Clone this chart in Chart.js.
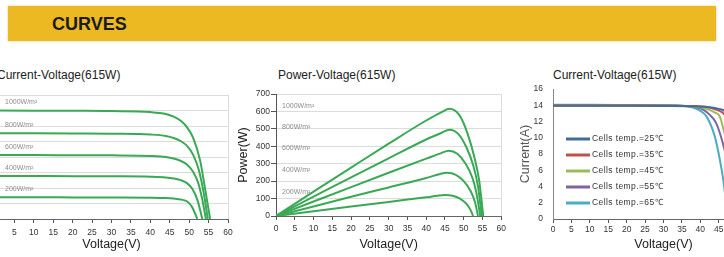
<!DOCTYPE html>
<html>
<head>
<meta charset="utf-8">
<script src="https://cdn.jsdelivr.net/npm/chart.js@4.4.0/dist/chart.umd.min.js"></script>
<style>
  body { margin: 0; width: 724px; height: 257px; overflow: hidden; background: #fff; position: relative;
         font-family: "Liberation Sans", Arial, sans-serif; }
  .banner { position: absolute; left: 8px; top: 6px; width: 708px; height: 35px; background: #ecb922;
            box-shadow: 0 0 2px rgba(205, 160, 40, 0.6); }
  .banner span { position: absolute; left: 44px; top: 8px; font-weight: bold; font-size: 18px; color: #1b1b1b; }
  .title { position: absolute; font-size: 12px; color: #222; white-space: nowrap; line-height: 14px; }
  canvas { position: absolute; }
</style>
</head>
<body>
<div class="banner"><span>CURVES</span></div>
<div class="title" style="left:-3px; top:68px">Current-Voltage(615W)</div>
<div class="title" style="left:278px; top:68px">Power-Voltage(615W)</div>
<div class="title" style="left:553px; top:68px">Current-Voltage(615W)</div>

<canvas id="iv" width="253" height="167" style="left:-15px; top:85px; width:253px; height:167px"></canvas>
<canvas id="pv" width="274" height="167" style="left:236px; top:85px; width:274px; height:167px"></canvas>
<canvas id="temp" width="264" height="172" style="left:518px; top:80px; width:264px; height:172px"></canvas>

<script>
// irradiance series (charts 1 and 2)
const irradianceLabels = ['1000W/m²', '800W/m²', '600W/m²', '400W/m²', '200W/m²'];

const ivVoltage = [
  [0, 10, 20, 30, 40, 44, 46, 48, 49.5, 51, 52.8, 54.1, 55.4],
  [0, 10, 20, 30, 40, 44, 46, 48, 49.5, 51, 52.5, 53.7, 54.8],
  [0, 10, 20, 30, 40, 44, 46, 48, 49.5, 51, 52.3, 53.3, 54.3],
  [0, 10, 20, 30, 40, 44, 46, 48, 49.5, 50.8, 52.1, 53.4],
  [0, 10, 20, 30, 40, 44, 46, 48, 49.5, 50.8, 52.1]
];
const ivCurrent = [
  [14.0, 13.98, 13.96, 13.93, 13.8, 13.55, 13.2, 12.6, 11.8, 10.5, 7.6, 3.9, 0],
  [11.06, 11.05, 11.03, 11.0, 10.9, 10.72, 10.45, 10.0, 9.4, 8.3, 6.3, 3.5, 0],
  [8.26, 8.25, 8.23, 8.21, 8.13, 8.0, 7.8, 7.45, 7.0, 6.1, 4.7, 2.7, 0],
  [5.55, 5.54, 5.53, 5.51, 5.46, 5.37, 5.23, 4.98, 4.6, 3.9, 2.5, 0],
  [2.8, 2.8, 2.79, 2.78, 2.75, 2.7, 2.63, 2.5, 2.25, 1.5, 0]
];

const pvVoltage = [
  [0, 10, 20, 30, 40, 44, 46.2, 48.8, 51, 52.8, 54.1, 55.2],
  [0, 10, 20, 30, 40, 44, 46.2, 48.6, 50.8, 52.6, 53.8, 54.8],
  [0, 10, 20, 30, 40, 44, 46, 48.3, 50.5, 52.3, 53.4, 54.4],
  [0, 10, 20, 30, 40, 43.5, 45.5, 47.8, 50, 51.8, 53, 53.8],
  [0, 10, 20, 30, 40, 43, 45, 47, 49, 50.8, 51.8, 52.5]
];
const pvPower = [
  [0, 140, 278, 415, 548, 595, 615, 580, 474, 340, 206, 0],
  [0, 111, 222, 331, 439, 476, 495, 470, 390, 285, 170, 0],
  [0, 83, 166, 248, 329, 361, 375, 357, 300, 220, 130, 0],
  [0, 55, 110, 164, 218, 240, 248, 238, 200, 145, 80, 0],
  [0, 27, 54, 81, 107, 116, 120, 116, 100, 68, 35, 0]
];

// cell temperature series (chart 3)
const tempLabels = ['Cells temp.=25℃', 'Cells temp.=35℃', 'Cells temp.=45℃', 'Cells temp.=55℃', 'Cells temp.=65℃'];
const tempColors = ['#416c9c', '#c0504d', '#9bbb59', '#8064a2', '#4bacc6'];
const tempVoltage = [
  [0, 10, 20, 30, 38, 42, 44, 46, 48, 50, 52, 54, 55.5],
  [0, 10, 20, 30, 38, 42, 44, 46, 48, 50, 52, 53.6],
  [0, 10, 20, 30, 36, 40, 42, 44, 45.3, 46.3, 48, 50, 51.5],
  [0, 10, 20, 30, 36, 39, 41, 42.5, 44.3, 46.3, 48, 49.5],
  [0, 10, 20, 30, 35, 38, 40, 41.7, 43.9, 45.3, 46.2, 47.5]
];
const tempCurrent = [
  [13.95, 13.95, 13.94, 13.92, 13.88, 13.78, 13.65, 13.45, 12.9, 11.8, 9.8, 6.0, 0],
  [13.98, 13.98, 13.97, 13.95, 13.9, 13.75, 13.5, 13.1, 12.0, 10.0, 6.5, 0],
  [14.0, 14.0, 13.99, 13.97, 13.92, 13.75, 13.5, 13.1, 12.6, 11.0, 8.0, 4.0, 0],
  [14.02, 14.02, 14.01, 13.99, 13.92, 13.75, 13.4, 12.85, 11.8, 9.0, 5.5, 0],
  [14.05, 14.05, 14.04, 14.02, 13.95, 13.72, 13.3, 12.6, 10.2, 7.3, 4.9, 0]
];

const voltageTicks = { min: 0, max: 60, step: 5 };

Chart.defaults.font.family = '"Liberation Sans", Arial, sans-serif';
Chart.defaults.color = '#333';

const green = '#3aa955';
const toPoints = (xs, ys) => xs.map((x, i) => ({ x, y: ys[i] }));

// irradiance text drawn next to each curve
const curveLabels = {
  id: 'curveLabels',
  beforeDatasetsDraw(chart, args, opts) {
    const { ctx, chartArea, scales } = chart;
    ctx.save();
    ctx.font = '7px "Liberation Sans", Arial, sans-serif';
    ctx.fillStyle = '#8c8c8c';
    ctx.textBaseline = 'middle';
    chart.data.datasets.forEach(ds => {
      const ys = ds.data.map(p => p.y);
      const v = opts.anchor === 'peak' ? Math.max(...ys) : ys[0];
      ctx.fillText(ds.label, chartArea.left + opts.dx, scales.y.getPixelForValue(v) + opts.dy);
    });
    ctx.restore();
  }
};

// legend sitting inside the plot
const insideLegend = {
  id: 'insideLegend',
  afterDatasetsDraw(chart, args, opts) {
    const { ctx, chartArea } = chart;
    ctx.save();
    ctx.font = '8.5px "Liberation Sans", Arial, sans-serif';
    if ('letterSpacing' in ctx) ctx.letterSpacing = '0.4px';
    ctx.fillStyle = '#333';
    ctx.textBaseline = 'middle';
    chart.data.datasets.forEach((ds, i) => {
      const x = chartArea.left + opts.left;
      const y = chartArea.top + opts.top + i * opts.gap;
      ctx.strokeStyle = ds.borderColor;
      ctx.lineWidth = 3;
      ctx.beginPath();
      ctx.moveTo(x, y);
      ctx.lineTo(x + 24, y);
      ctx.stroke();
      ctx.fillText(ds.label, x + 26, y);
    });
    ctx.restore();
  }
};

function lineSet(label, xs, ys, color) {
  return {
    label: label,
    data: toPoints(xs, ys),
    showLine: true,
    borderColor: color,
    borderWidth: 2,
    pointRadius: 0,
    cubicInterpolationMode: 'monotone'
  };
}

function voltageAxis(pad, height, rightGrid) {
  return {
    type: 'linear',
    min: voltageTicks.min,
    max: voltageTicks.max,
    ticks: { stepSize: voltageTicks.step, font: { size: 8.5 }, color: '#333', padding: pad },
    grid: {
      color: ctx => (rightGrid && ctx.tick && ctx.tick.value === voltageTicks.max) ? '#dcdcdc' : 'rgba(0,0,0,0)',
      tickColor: '#555',
      tickLength: 4
    },
    border: { color: '#666' },
    title: { display: true, text: 'Voltage(V)', font: { size: 12.5 }, color: '#222', padding: 0 },
    afterFit: s => { s.height = height; }
  };
}

const baseOptions = {
  responsive: false,
  animation: false,
  devicePixelRatio: 1,
  events: []
};

// chart 1: current vs voltage at different irradiance
new Chart(document.getElementById('iv'), {
  type: 'scatter',
  data: {
    datasets: irradianceLabels.map((l, i) => lineSet(l, ivVoltage[i], ivCurrent[i], green))
  },
  options: {
    ...baseOptions,
    layout: { padding: { top: 10, right: 10, bottom: 0, left: 0 } },
    scales: {
      x: voltageAxis(5, 33, true),
      y: {
        min: 0, max: 16,
        ticks: { stepSize: 2, display: false },
        grid: { color: '#dcdcdc', drawTicks: false },
        border: { display: false },
        afterFit: s => { s.width = 10; }
      }
    },
    plugins: {
      legend: { display: false },
      tooltip: { enabled: false },
      curveLabels: { anchor: 'first', dx: 10, dy: -8 }
    }
  },
  plugins: [curveLabels]
});

// chart 2: power vs voltage
new Chart(document.getElementById('pv'), {
  type: 'scatter',
  data: {
    datasets: irradianceLabels.map((l, i) => lineSet(l, pvVoltage[i], pvPower[i], green))
  },
  options: {
    ...baseOptions,
    layout: { padding: { top: 9, right: 8, bottom: 0, left: 0 } },
    scales: {
      x: voltageAxis(4, 36, true),
      y: {
        min: 0, max: 700,
        ticks: { stepSize: 100, font: { size: 8.5 }, color: '#333', padding: 1 },
        grid: { color: '#dcdcdc', tickColor: '#555', tickLength: 5 },
        border: { color: '#555' },
        title: { display: true, text: 'Power(W)', font: { size: 12.5 }, color: '#222', padding: 0 },
        afterFit: s => { s.width = 40; }
      }
    },
    plugins: {
      legend: { display: false },
      tooltip: { enabled: false },
      curveLabels: { anchor: 'peak', dx: 6, dy: -3 }
    }
  },
  plugins: [curveLabels]
});

// chart 3: current vs voltage at different cell temperatures
new Chart(document.getElementById('temp'), {
  type: 'scatter',
  data: {
    datasets: tempLabels.map((l, i) => lineSet(l, tempVoltage[i], tempCurrent[i], tempColors[i]))
  },
  options: {
    ...baseOptions,
    layout: { padding: { top: 9, right: 8, bottom: 0, left: 0 } },
    scales: {
      x: {
        ...voltageAxis(2, 33, false),
        grid: { drawOnChartArea: false, tickColor: '#555', tickLength: 4 }
      },
      y: {
        min: 0, max: 16,
        ticks: { stepSize: 2, font: { size: 8.5 }, color: '#333', padding: 1 },
        // invisible tick marks keep the labels clear of the axis line
        grid: { drawOnChartArea: false, tickLength: 9, tickColor: 'rgba(0,0,0,0)' },
        border: { color: '#888' },
        title: { display: true, text: 'Current(A)', font: { size: 12.5 }, color: '#555', padding: 0 },
        afterFit: s => { s.width = 35; }
      }
    },
    plugins: {
      legend: { display: false },
      tooltip: { enabled: false },
      insideLegend: { left: 13, top: 50, gap: 16 }
    }
  },
  plugins: [insideLegend]
});
</script>
</body>
</html>
